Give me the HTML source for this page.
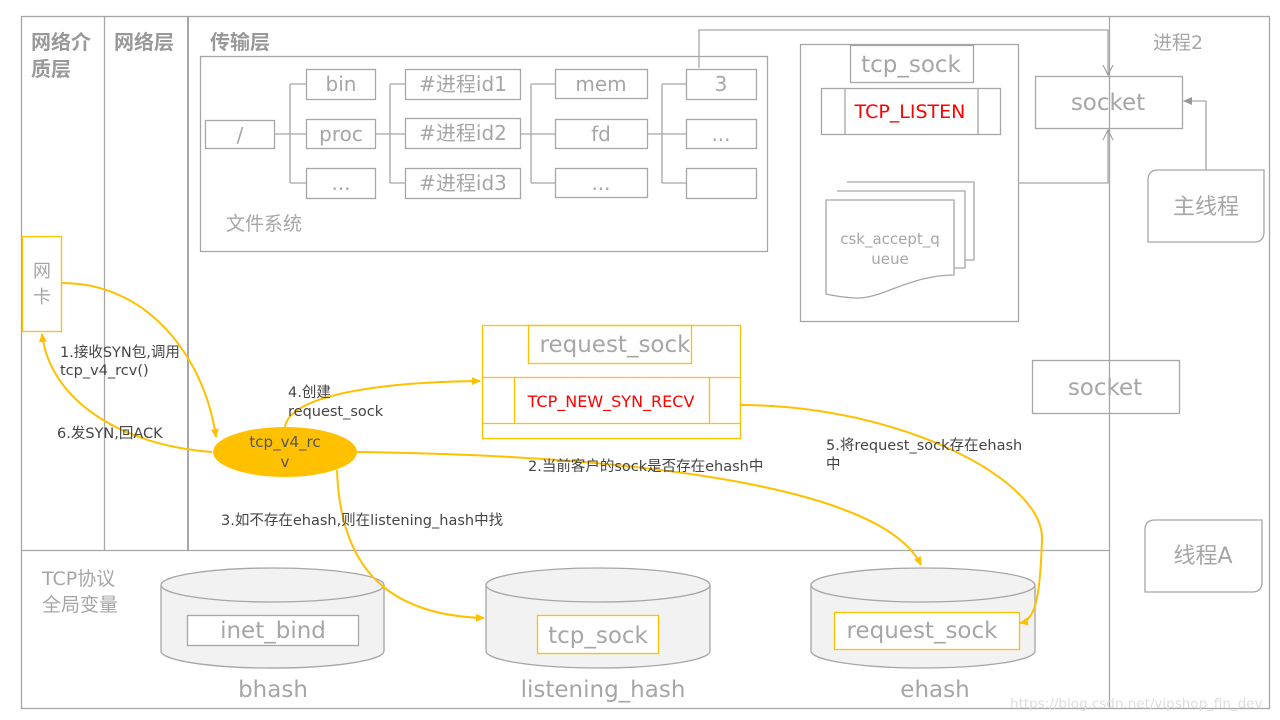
<!DOCTYPE html>
<html><head><meta charset="utf-8"><style>
html,body{margin:0;padding:0;background:#fff;}
svg{display:block;}
text{font-family:"DejaVu Sans","Liberation Sans","Noto Sans CJK SC",sans-serif;}
</style></head><body>
<svg width="1280" height="720" viewBox="0 0 1280 720" xmlns="http://www.w3.org/2000/svg">
<defs>
<marker id="ao" markerWidth="10" markerHeight="10" refX="8" refY="5" orient="auto" markerUnits="userSpaceOnUse"><path d="M0,1 L9,5 L0,9 z" fill="#FFC000"/></marker>
<marker id="ag" markerWidth="12" markerHeight="12" refX="10" refY="6" orient="auto" markerUnits="userSpaceOnUse"><path d="M0,1 L10,6 L0,11" fill="none" stroke="#999" stroke-width="1"/></marker>
<marker id="agf" markerWidth="10" markerHeight="10" refX="8" refY="5" orient="auto" markerUnits="userSpaceOnUse"><path d="M0,1 L9,5 L0,9 z" fill="#999"/></marker>
</defs>
<g fill="none" stroke="#a6a6a6" stroke-width="1.3">
<rect x="21.5" y="16.5" width="1248" height="692"/>
<line x1="104.5" y1="16" x2="104.5" y2="550"/>
<line x1="188" y1="16" x2="188" y2="550" stroke-width="2"/>
<line x1="1109.5" y1="16" x2="1109.5" y2="708"/>
<line x1="21" y1="550.5" x2="1109" y2="550.5"/>
<rect x="200.5" y="56.5" width="567" height="195"/>
<rect x="205.5" y="120.5" width="69" height="28"/>
<rect x="306.5" y="69.5" width="69" height="30"/>
<rect x="306.5" y="119.5" width="69" height="29"/>
<rect x="306.5" y="168.5" width="69" height="30"/>
<rect x="405.5" y="69.5" width="115" height="30"/>
<rect x="405.5" y="118.5" width="115" height="30"/>
<rect x="405.5" y="168.5" width="115" height="30"/>
<rect x="555.5" y="69.5" width="92" height="29"/>
<rect x="555.5" y="119.5" width="92" height="29"/>
<rect x="555.5" y="168.5" width="92" height="29"/>
<rect x="686.5" y="69.5" width="70" height="30"/>
<rect x="686.5" y="119.5" width="70" height="29"/>
<rect x="686.5" y="168.5" width="70" height="30"/>
<path d="M274,134 H306 M290,84 V183 M290,84 H306 M290,183 H306"/>
<path d="M375,134 H405 M390,84 V183 M390,84 H405 M390,183 H405"/>
<path d="M520,134 H555 M531,84 V183 M531,84 H555 M531,183 H555"/>
<path d="M647,134 H686 M662,84 V183 M662,84 H686 M662,183 H686"/>
<rect x="800.5" y="44.5" width="218" height="277"/>
<rect x="850.5" y="45.5" width="123" height="37"/>
<rect x="821.5" y="88.5" width="179" height="46"/>
<line x1="845" y1="88" x2="845" y2="134"/>
<line x1="978" y1="88" x2="978" y2="134"/>
<path d="M847,182 H974 V260 H965" />
<path d="M837,191 H965 V268 H954"/>
<path d="M826,200 H954 V275 C910,275 880,300 855,298 C840,297 830,295 826,294 Z" fill="#fff"/>
<rect x="1035.5" y="76.5" width="147" height="52"/>
<path d="M699,68 V30 H1108 V75" marker-end="url(#ag)"/>
<path d="M1018,183 H1108 V130" marker-end="url(#ag)"/>
<path d="M1206,170 V101 H1184" marker-end="url(#agf)"/>
<path d="M1158,170 H1264 V232 Q1264,242 1254,242 H1148 V180 Q1148,170 1158,170 Z"/>
<rect x="1032.5" y="360.5" width="147" height="53"/>
<path d="M1155,520 H1262 V582 Q1262,592 1252,592 H1145 V530 Q1145,520 1155,520 Z"/>
</g>
<g fill="#f2f2f2" stroke="#a6a6a6" stroke-width="1.3">
<path d="M161,585 V651 A111,17 0 0 0 384,651 V585"/>
<ellipse cx="272.5" cy="585" rx="111.5" ry="17"/>
<path d="M486,585 V651 A112,17 0 0 0 710,651 V585"/>
<ellipse cx="598" cy="585" rx="112" ry="17"/>
<path d="M811,585 V651 A112,17 0 0 0 1035,651 V585"/>
<ellipse cx="923" cy="585" rx="112" ry="17"/>
</g>
<rect x="187.5" y="615.5" width="171" height="30" fill="#fff" stroke="#a6a6a6" stroke-width="1.3"/>
<rect x="537.5" y="615.5" width="121" height="38" fill="#fff" stroke="#FFC000" stroke-width="1.3"/>
<rect x="834.5" y="612.5" width="185" height="37" fill="#fff" stroke="#FFC000" stroke-width="1.3"/>
<g fill="none" stroke="#FFC000" stroke-width="1.3">
<rect x="22.5" y="236.5" width="39" height="95"/>
<rect x="482.5" y="325.5" width="258" height="113"/>
<rect x="528.5" y="325.5" width="163" height="38"/>
<line x1="482" y1="377.5" x2="740" y2="377.5"/>
<line x1="482" y1="423.5" x2="740" y2="423.5"/>
<line x1="514.5" y1="378" x2="514.5" y2="423"/>
<line x1="709.5" y1="378" x2="709.5" y2="423"/>
</g>
<ellipse cx="285" cy="452" rx="72" ry="25" fill="#FFC000"/>
<g fill="none" stroke="#FFC000" stroke-width="2">
<path d="M62,283 C150,283 205,360 216,437" marker-end="url(#ao)"/>
<path d="M212,452 C120,445 50,400 42,334" marker-end="url(#ao)"/>
<path d="M285,427 C290,395 380,382 480,381" marker-end="url(#ao)"/>
<path d="M357,452 C600,455 880,480 921,565" marker-end="url(#ao)"/>
<path d="M337,470 C340,560 380,615 484,618" marker-end="url(#ao)"/>
<path d="M740,405 C900,405 1045,480 1042,540 C1040,600 1035,620 1020,623" marker-end="url(#ao)"/>
</g>
<g fill="#999" font-weight="bold" font-size="20">
<text x="31" y="49">网络介</text><text x="31" y="76">质层</text>
<text x="114" y="49">网络层</text>
<text x="210" y="49">传输层</text>
</g>
<g fill="#a6a6a6" font-size="20" text-anchor="middle">
<text x="240" y="142">/</text>
<text x="341" y="91">bin</text>
<text x="341" y="141">proc</text>
<text x="341" y="190">...</text>
<text x="463" y="91">#进程id1</text>
<text x="463" y="140">#进程id2</text>
<text x="463" y="190">#进程id3</text>
<text x="601" y="91">mem</text>
<text x="601" y="141">fd</text>
<text x="601" y="190">...</text>
<text x="721" y="91">3</text>
<text x="721" y="141">...</text>
<text x="911" y="72" font-size="23">tcp_sock</text>
<text x="1108" y="110" font-size="23">socket</text>
<text x="1105" y="395" font-size="23">socket</text>
<text x="1206" y="214" font-size="22">主线程</text>
<text x="1203" y="563" font-size="22">线程A</text>
<text x="890" y="244" font-size="15">csk_accept_q</text>
<text x="890" y="264" font-size="15">ueue</text>
<text x="615" y="352" font-size="23">request_sock</text>
<text x="273" y="638" font-size="23">inet_bind</text>
<text x="598" y="643" font-size="23">tcp_sock</text>
<text x="922" y="638" font-size="23">request_sock</text>
<text x="273" y="697" font-size="23">bhash</text>
<text x="603" y="697" font-size="23">listening_hash</text>
<text x="935" y="697" font-size="23">ehash</text>
<text x="42" y="277" font-size="18">网</text>
<text x="42" y="303" font-size="18">卡</text>
</g>
<g fill="#a6a6a6" font-size="19">
<text x="226" y="230">文件系统</text>
<text x="1153" y="49">进程2</text>
<text x="42" y="585">TCP协议</text>
<text x="42" y="611">全局变量</text>
</g>
<g fill="#f00" font-size="19" text-anchor="middle">
<text x="910" y="118">TCP_LISTEN</text>
<text x="611" y="407" font-size="16">TCP_NEW_SYN_RECV</text>
</g>
<g fill="#555" font-size="15" text-anchor="middle">
<text x="285" y="447">tcp_v4_rc</text>
<text x="285" y="467">v</text>
</g>
<g fill="#444" font-size="14.5">
<text x="60" y="357">1.接收SYN包,调用</text>
<text x="60" y="375">tcp_v4_rcv()</text>
<text x="57" y="438">6.发SYN,回ACK</text>
<text x="288" y="397">4.创建</text>
<text x="288" y="416">request_sock</text>
<text x="528" y="471">2.当前客户的sock是否存在ehash中</text>
<text x="221" y="525">3.如不存在ehash,则在listening_hash中找</text>
<text x="826" y="450">5.将request_sock存在ehash</text>
<text x="826" y="469">中</text>
</g>
<text x="1010" y="708" fill="#ddd" font-size="13.5" font-family="Liberation Sans, sans-serif">https://blog.csdn.net/vipshop_fin_dev</text>
</svg>
</body></html>
